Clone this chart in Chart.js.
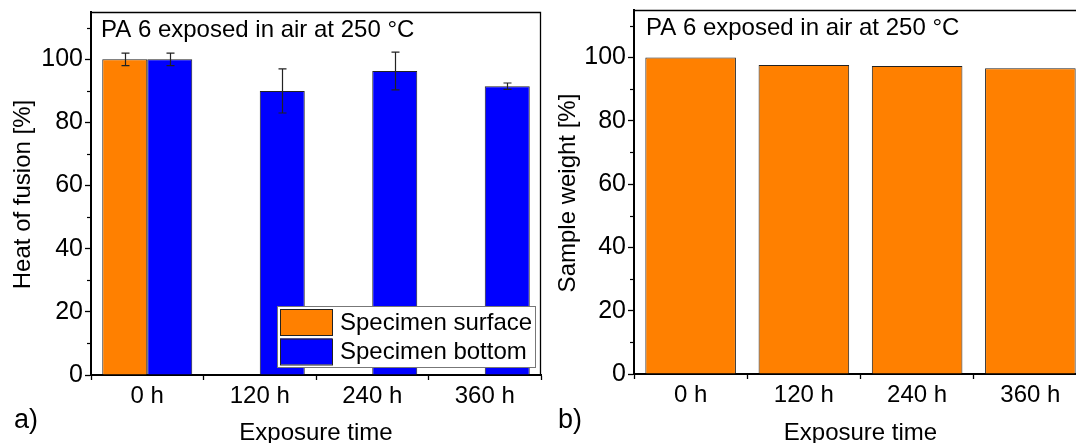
<!DOCTYPE html>
<html>
<head>
<meta charset="utf-8">
<script src="https://cdn.jsdelivr.net/npm/chart.js@4/dist/chart.umd.min.js"></script>
<style>
  html, body { margin: 0; padding: 0; background: #fff; }
  #wrap { position: relative; width: 1076px; height: 443px; overflow: hidden; }
  .panel { position: absolute; top: 0; }
</style>
</head>
<body>
<div id="wrap">
  <div class="panel" style="left:0px"><canvas id="chartA" width="548" height="443"></canvas></div>
  <div class="panel" style="left:548px"><canvas id="chartB" width="548" height="443"></canvas></div>
</div>
<script>
// ---- data ----
const exposureTimes = ['0 h', '120 h', '240 h', '360 h'];
const heatSurface = [100, null, null, null];
const heatSurfaceErr = [2, null, null, null];
const heatBottom = [100, 90, 96.3, 91.5];
const heatBottomErr = [2, 7, 6, 1];
const sampleWeight = [100, 97.6, 97.3, 96.6];
const yMajorTicks = [0, 20, 40, 60, 80, 100];
const yMinorTicks = [10, 30, 50, 70, 90, 110];

// ---- styling ----
const FONT = '"Liberation Sans", Arial, Helvetica, sans-serif';
const FS = 24;
const TICK_FS = 25;
const ORANGE = '#FF8000';
const BLUE = '#0000FF';
const EDGE = '#222';

// error bars drawn from each dataset's "errors" array
const errorBars = {
  id: 'errorBars',
  afterDatasetsDraw(chart) {
    const { ctx, scales: { y } } = chart;
    ctx.save();
    ctx.strokeStyle = '#222';
    ctx.lineWidth = 1.2;
    chart.data.datasets.forEach((ds, i) => {
      if (!ds.errors) return;
      const meta = chart.getDatasetMeta(i);
      meta.data.forEach((bar, j) => {
        const v = ds.data[j], e = ds.errors[j];
        if (v == null || e == null) return;
        const x = Math.round(bar.x) + 0.5;
        const yHi = y.getPixelForValue(v + e), yLo = y.getPixelForValue(v - e);
        ctx.beginPath();
        ctx.moveTo(x, yHi); ctx.lineTo(x, yLo);
        ctx.moveTo(x - 4, yHi); ctx.lineTo(x + 4, yHi);
        ctx.moveTo(x - 4, yLo); ctx.lineTo(x + 4, yLo);
        ctx.stroke();
      });
    });
    ctx.restore();
  }
};

// boxed legend in the lower right of the plot
const boxLegend = {
  id: 'boxLegend',
  afterDatasetsDraw(chart, args, opts) {
    if (!opts.show) return;
    const { ctx, chartArea: a } = chart;
    const w = 258, h = 61;
    const x0 = a.right - 6 - w, y0 = a.bottom - 8 - h;
    ctx.save();
    ctx.fillStyle = '#fff';
    ctx.fillRect(x0, y0, w, h);
    ctx.strokeStyle = '#777';
    ctx.lineWidth = 1;
    ctx.strokeRect(x0 + 0.5, y0 + 0.5, w, h);
    ctx.font = FS + 'px ' + FONT;
    ctx.textBaseline = 'middle';
    ctx.textAlign = 'left';
    chart.data.datasets.forEach((ds, i) => {
      const sy = y0 + 3 + i * 29.5;
      ctx.fillStyle = ds.backgroundColor;
      ctx.fillRect(x0 + 3, sy, 52, 26);
      ctx.strokeStyle = EDGE;
      ctx.strokeRect(x0 + 3.5, sy + 0.5, 52, 26);
      ctx.fillStyle = '#000';
      ctx.fillText(ds.label, x0 + 63, sy + 14);
    });
    ctx.restore();
  }
};

// frame, minor ticks and panel texts
const panelDecor = {
  id: 'panelDecor',
  afterDraw(chart, args, opts) {
    const { ctx, chartArea: a, scales: { y } } = chart;
    ctx.save();
    ctx.strokeStyle = '#000';
    ctx.lineWidth = 1.3;
    ctx.beginPath();
    ctx.moveTo(a.left, a.top + 0.5);
    ctx.lineTo(a.right - 0.5, a.top + 0.5);
    ctx.lineTo(a.right - 0.5, a.bottom);
    ctx.stroke();
    ctx.lineWidth = 1.2;
    yMinorTicks.forEach(v => {
      const py = Math.round(y.getPixelForValue(v)) + 0.5;
      ctx.beginPath();
      ctx.moveTo(a.left - 4, py);
      ctx.lineTo(a.left, py);
      ctx.stroke();
    });
    ctx.fillStyle = '#000';
    ctx.font = FS + 'px ' + FONT;
    ctx.textBaseline = 'alphabetic';
    // title inside the plot
    ctx.textAlign = 'left';
    ctx.fillText(opts.title, a.left + opts.titleDx, a.top + opts.titleDy);
    // x axis title
    ctx.textAlign = 'center';
    ctx.fillText(opts.xTitle, (a.left + a.right) / 2, 440);
    // y axis title
    ctx.save();
    ctx.translate(opts.yTitleX, (a.top + a.bottom) / 2 + 1);
    ctx.rotate(-Math.PI / 2);
    ctx.fillText(opts.yTitle, 0, 0);
    ctx.restore();
    // panel letter
    ctx.textAlign = 'left';
    ctx.font = '27px ' + FONT;
    ctx.fillText(opts.letter, opts.letterX, 428);
    ctx.restore();
  }
};

function makeScales(left, xHeight) {
  return {
    x: {
      type: 'category',
      offset: true,
      z: 1,
      border: { color: '#000', width: 2 },
      grid: { offset: true, drawOnChartArea: false, drawTicks: true, tickLength: 5, tickWidth: 1.3, tickColor: '#000' },
      ticks: { color: '#000', font: { family: FONT, size: FS }, padding: 2, maxRotation: 0, autoSkip: false },
      afterFit(s) { s.height = xHeight; s.paddingLeft = 0; s.paddingRight = 0; }
    },
    y: {
      min: 0,
      max: 115,
      z: 1,
      border: { color: '#000', width: 2 },
      grid: { drawOnChartArea: false, drawTicks: true, tickLength: 6, tickWidth: 1.3, tickColor: '#000' },
      ticks: { color: '#000', font: { family: FONT, size: TICK_FS }, padding: 2 },
      afterBuildTicks(s) { s.ticks = yMajorTicks.map(v => ({ value: v })); },
      afterFit(s) { s.width = left; s.paddingTop = 0; s.paddingBottom = 0; }
    }
  };
}

Chart.defaults.font.family = FONT;
Chart.defaults.color = '#000';

// a) heat of fusion
new Chart(document.getElementById('chartA'), {
  type: 'bar',
  data: {
    labels: exposureTimes,
    datasets: [
      { label: 'Specimen surface', data: heatSurface, errors: heatSurfaceErr,
        backgroundColor: ORANGE, borderColor: EDGE, borderWidth: 1,
        categoryPercentage: 0.8, barPercentage: 1.0 },
      { label: 'Specimen bottom', data: heatBottom, errors: heatBottomErr,
        backgroundColor: BLUE, borderColor: EDGE, borderWidth: 1,
        categoryPercentage: 0.8, barPercentage: 1.0 }
    ]
  },
  options: {
    responsive: false,
    animation: false,
    layout: { padding: { left: 0, top: 12, right: 7, bottom: 0 } },
    scales: makeScales(91, 68),
    plugins: {
      legend: { display: false },
      tooltip: { enabled: false },
      boxLegend: { show: true },
      panelDecor: {
        title: 'PA 6 exposed in air at 250 °C', titleDx: 10, titleDy: 25,
        xTitle: 'Exposure time', yTitle: 'Heat of fusion [%]', yTitleX: 30,
        letter: 'a)', letterX: 14
      }
    }
  },
  plugins: [errorBars, boxLegend, panelDecor]
});

// b) sample weight
new Chart(document.getElementById('chartB'), {
  type: 'bar',
  data: {
    labels: exposureTimes,
    datasets: [
      { label: 'Sample weight', data: sampleWeight,
        backgroundColor: ORANGE, borderColor: EDGE, borderWidth: 1,
        categoryPercentage: 0.8, barPercentage: 1.0 }
    ]
  },
  options: {
    responsive: false,
    animation: false,
    layout: { padding: { left: 0, top: 10, right: 9, bottom: 0 } },
    scales: makeScales(86, 69),
    plugins: {
      legend: { display: false },
      tooltip: { enabled: false },
      boxLegend: { show: false },
      panelDecor: {
        title: 'PA 6 exposed in air at 250 °C', titleDx: 12, titleDy: 25,
        xTitle: 'Exposure time', yTitle: 'Sample weight [%]', yTitleX: 27,
        letter: 'b)', letterX: 10
      }
    }
  },
  plugins: [errorBars, boxLegend, panelDecor]
});
</script>
</body>
</html>
